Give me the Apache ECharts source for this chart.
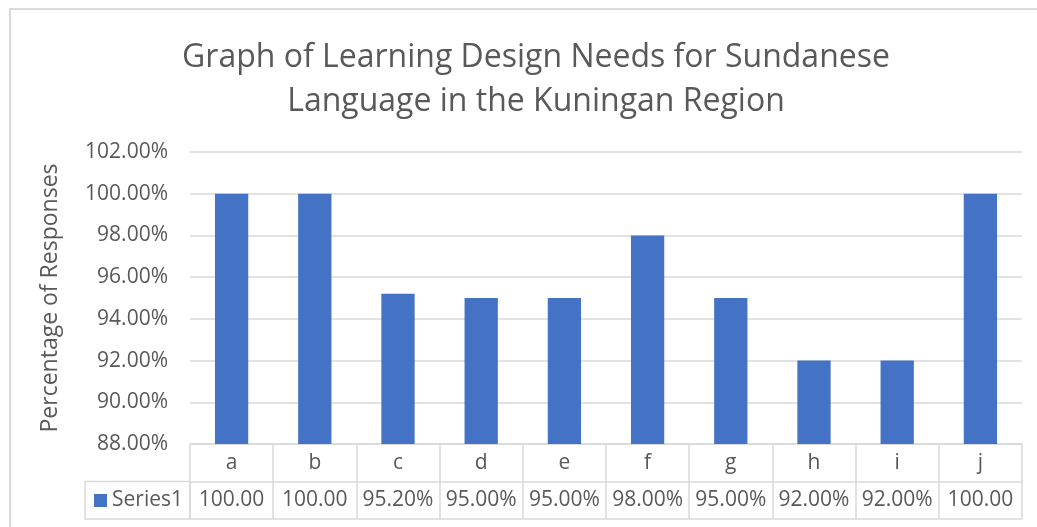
<!DOCTYPE html>
<html>
<head>
<meta charset="utf-8">
<script src="https://cdn.jsdelivr.net/npm/echarts@6/dist/echarts.min.js"></script>
<style>
  html, body { margin: 0; padding: 0; background: #fff; }
  #chart { width: 1037px; height: 527px; }
</style>
</head>
<body>
<div id="chart"></div>
<script>
// data
var categories = ['a', 'b', 'c', 'd', 'e', 'f', 'g', 'h', 'i', 'j'];
var values = [100, 100, 95.2, 95, 95, 98, 95, 92, 92, 100];
// data table row, as shown in the picture (wide values are cut off)
var tableLabels = ['100.00', '100.00', '95.20%', '95.00%', '95.00%', '98.00%', '95.00%', '92.00%', '92.00%', '100.00'];
var seriesName = 'Series1';
var yMin = 88, yMax = 102, yStep = 2;

var FONT = '"Open Sans", "Noto Sans", sans-serif';
var TEXT = '#595959';
var LINE = '#d9d9d9';
var BAR = '#4472c4';
var ROW = 37.5;

var myChart = echarts.init(document.getElementById('chart'));

var option = {
    animation: false,
    backgroundColor: '#fff',
    textStyle: { fontFamily: FONT },
    title: {
        text: 'Graph of Learning Design Needs for Sundanese\nLanguage in the Kuningan Region',
        left: 531,
        top: 31,
        textAlign: 'center',
        textStyle: {
            fontFamily: FONT,
            fontSize: 32,
            fontWeight: 'normal',
            color: TEXT,
            lineHeight: 44
        }
    },
    grid: {
        left: 190,
        right: 15,
        top: 152,
        bottom: 83,
        containLabel: false
    },
    xAxis: [
        {
            // header row of the data table
            type: 'category',
            data: categories,
            position: 'bottom',
            axisLine: { show: true, lineStyle: { color: LINE, width: 1.5 } },
            axisTick: { show: true, interval: 0, length: ROW, lineStyle: { color: LINE, width: 1.5 } },
            axisLabel: { interval: 0, margin: ROW / 2, verticalAlign: 'middle', fontSize: 21, color: TEXT, fontFamily: FONT },
            splitLine: { show: false }
        },
        {
            // value row of the data table
            type: 'category',
            data: tableLabels,
            position: 'bottom',
            offset: ROW,
            axisLine: { show: true, lineStyle: { color: LINE, width: 1.5 } },
            axisTick: { show: true, interval: 0, length: ROW, lineStyle: { color: LINE, width: 1.5 } },
            axisLabel: { interval: 0, margin: ROW / 2, verticalAlign: 'middle', fontSize: 21, color: TEXT, fontFamily: FONT },
            splitLine: { show: false }
        },
        {
            // bottom edge of the table
            type: 'category',
            data: categories,
            position: 'bottom',
            offset: ROW * 2,
            axisLine: { show: true, lineStyle: { color: LINE, width: 1.5 } },
            axisTick: { show: false },
            axisLabel: { show: false },
            splitLine: { show: false }
        }
    ],
    yAxis: {
        type: 'value',
        min: yMin,
        max: yMax,
        interval: yStep,
        name: 'Percentage of Responses',
        nameLocation: 'middle',
        nameGap: 128,
        nameTextStyle: { fontSize: 23, color: TEXT, fontFamily: FONT },
        axisLine: { show: false },
        axisTick: { show: false },
        axisLabel: {
            margin: 22,
            fontSize: 21,
            color: TEXT,
            fontFamily: FONT,
            formatter: function (v) { return v.toFixed(2) + '%'; }
        },
        splitLine: { lineStyle: { color: LINE, width: 1.5 } }
    },
    series: [{
        name: seriesName,
        type: 'bar',
        xAxisIndex: 0,
        data: values,
        barCategoryGap: '60%',
        itemStyle: { color: BAR }
    }],
    graphic: [
        {
            // chart frame
            type: 'rect',
            silent: true,
            shape: { x: 10, y: 9, width: 1040, height: 540 },
            style: { fill: 'none', stroke: LINE, lineWidth: 2 }
        },
        {
            // legend key cell of the table
            type: 'rect',
            silent: true,
            shape: { x: 85, y: 444 + ROW, width: 105, height: ROW },
            style: { fill: 'none', stroke: LINE, lineWidth: 1.5 }
        },
        {
            type: 'rect',
            silent: true,
            shape: { x: 94, y: 494, width: 13, height: 13 },
            style: { fill: BAR }
        },
        {
            type: 'text',
            silent: true,
            x: 112,
            y: 444 + ROW * 1.5,
            style: {
                text: seriesName,
                fill: TEXT,
                font: '21px ' + FONT,
                verticalAlign: 'middle'
            }
        }
    ]
};

myChart.setOption(option);
</script>
</body>
</html>
